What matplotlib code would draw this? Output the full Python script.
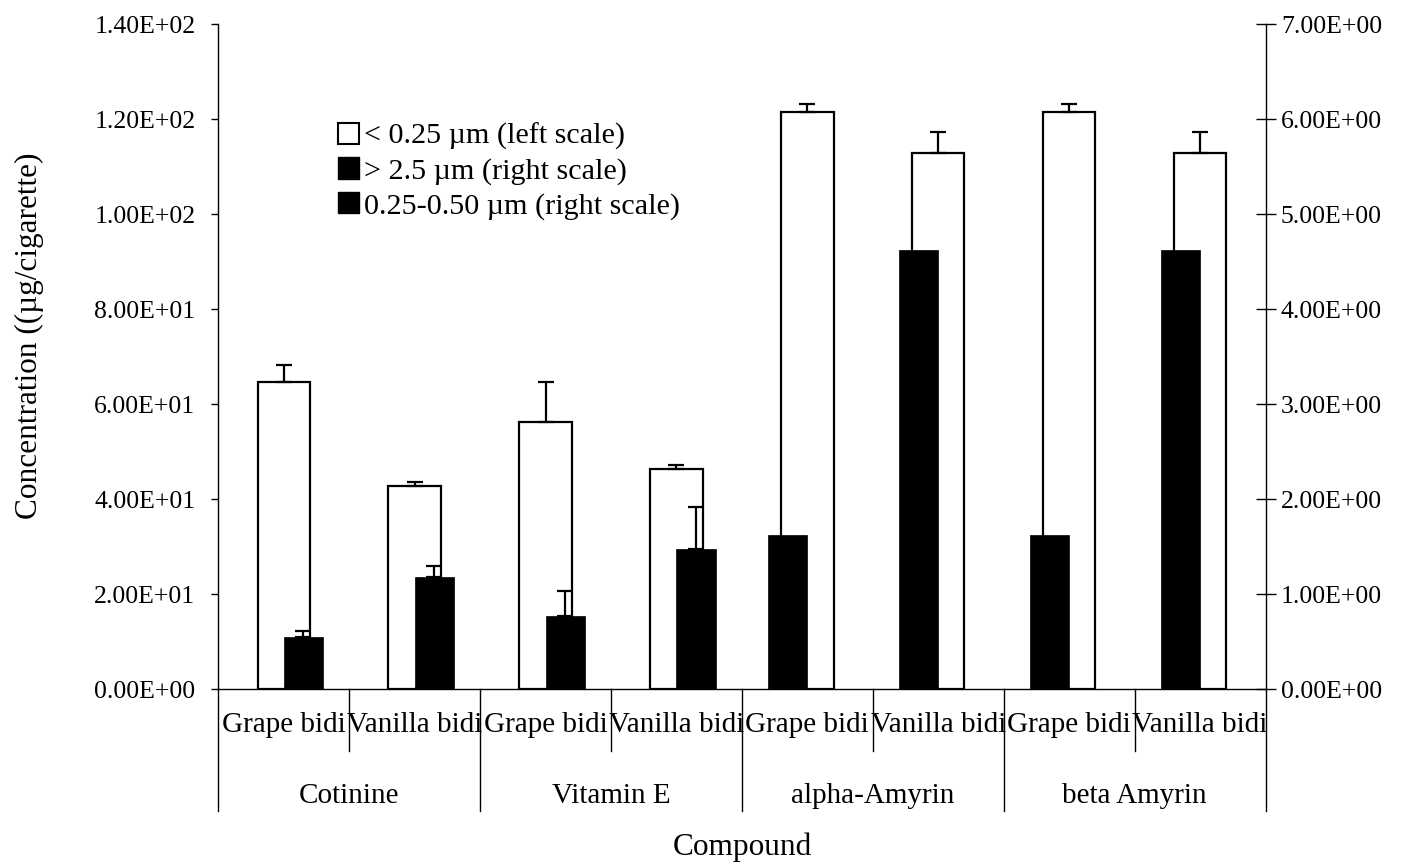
import numpy as np
import matplotlib
matplotlib.use("Agg")
import matplotlib.pyplot as plt
from matplotlib.patches import Patch
from matplotlib.ticker import FuncFormatter, MultipleLocator
import matplotlib.transforms as mtransforms

plt.rcParams['font.family'] = ['Liberation Serif', 'DejaVu Serif']

# ---- data ----
subcats = ["Grape bidi", "Vanilla bidi"] * 4
groups = ["Cotinine", "Vitamin E", "alpha-Amyrin", "beta Amyrin"]
fine = [64.6, 42.7, 56.3, 46.3, 121.6, 113.0, 121.6, 113.0]          # < 0.25 um (left)
fine_err = [3.6, 0.9, 8.3, 0.9, 1.7, 4.4, 1.7, 4.4]
coarse = [0.0, 0.0, 0.0, 0.0, 1.62, 4.62, 1.62, 4.62]                # > 2.5 um (right)
coarse_err = [0.0, 0.0, 0.0, 0.0, 0.0, 0.0, 0.0, 0.0]
mid = [0.55, 1.18, 0.77, 1.48, 0.0, 0.0, 0.0, 0.0]                  # 0.25-0.50 um (right)
mid_err = [0.06, 0.12, 0.26, 0.44, 0.0, 0.0, 0.0, 0.0]
legend_labels = ["< 0.25 \u00b5m (left scale)", "> 2.5 \u00b5m (right scale)",
                 "0.25-0.50 \u00b5m (right scale)"]

W, H = 1407, 863
fig = plt.figure(figsize=(W / 100, H / 100), dpi=100)
L, R, T, B = 218.3, 1265.5, 24.3, 689.3
ax = fig.add_axes([L / W, 1 - B / H, (R - L) / W, (B - T) / H])
ax2 = ax.twinx()

x = np.arange(len(fine))
lw = 1.6

ax.bar(x, fine, 0.40, color="white", edgecolor="black", linewidth=lw, zorder=2)
fe = np.array(fine_err)
m = fe > 0
ax.errorbar(x[m], np.array(fine)[m], yerr=[np.zeros(m.sum()), fe[m]], fmt="none",
            ecolor="black", elinewidth=lw, capsize=5.5, capthick=lw, zorder=3)

ax2.bar(x - 0.15, coarse, 0.30, color="black", edgecolor="black", linewidth=0.5, zorder=2)
ax2.bar(x + 0.15, mid, 0.30, color="black", edgecolor="black", linewidth=0.5, zorder=2)
for off, vals, errs in [(-0.15, coarse, coarse_err), (0.15, mid, mid_err)]:
    e = np.array(errs)
    mm = e > 0
    ax2.errorbar(x[mm] + off, np.array(vals)[mm], yerr=[np.zeros(mm.sum()), e[mm]],
                 fmt="none", ecolor="black", elinewidth=lw, capsize=5.5, capthick=lw, zorder=3)

ax.set_xlim(-0.5, len(fine) - 0.5)
ax.set_ylim(0, 140)
ax2.set_ylim(0, 7)
ax.yaxis.set_major_locator(MultipleLocator(20))
ax2.yaxis.set_major_locator(MultipleLocator(1))
fmt = FuncFormatter(lambda v, p: "%.2E" % v)
ax.yaxis.set_major_formatter(fmt)
ax2.yaxis.set_major_formatter(fmt)

for a in (ax, ax2):
    a.spines["top"].set_visible(False)
    for s in a.spines.values():
        s.set_linewidth(1.0)
ax.spines["right"].set_visible(False)
ax2.spines["left"].set_visible(False)
ax2.spines["bottom"].set_visible(False)

ax.tick_params(axis="y", direction="out", length=5, width=1.0, labelsize=18.5, pad=11.5)
ax2.tick_params(axis="y", direction="inout", length=14, width=1.0, labelsize=18.5, pad=4)
ax.set_xticks([])

# multi-level category axis
trans = mtransforms.blended_transform_factory(ax.transData, ax.transAxes)
for i, lab in enumerate(subcats):
    ax.text(i, -0.053, lab, transform=trans, ha="center", va="center", fontsize=21)
for g, lab in enumerate(groups):
    ax.text(2 * g + 0.5, -0.16, lab, transform=trans, ha="center", va="center", fontsize=21)
for b in np.arange(-0.5, len(fine), 1.0):
    long_tick = (int(round(b + 0.5)) % 2 == 0)
    ybot = -0.183 if long_tick else -0.093
    ax.plot([b, b], [0, ybot], transform=trans, color="black", lw=1.0, clip_on=False)

fig.text((L + R) / 2 / W, 1 - 847 / H, "Compound", ha="center", va="center", fontsize=22.5)
fig.text(29 / W, 1 - 336 / H, "Concentration ((\u00b5g/cigarette)", rotation=90,
         ha="center", va="center", fontsize=22.5)

handles = [Patch(facecolor="white", edgecolor="black", linewidth=1.5),
           Patch(facecolor="black", edgecolor="black"),
           Patch(facecolor="black", edgecolor="black")]
ax2.legend(handles, legend_labels, loc="upper left", bbox_to_anchor=(0.103, 0.870),
           frameon=False, fontsize=21.7, handlelength=0.7, handleheight=0.7,
           handletextpad=0.15, labelspacing=0.24, borderaxespad=0)

fig.savefig("out.png", dpi=100)
